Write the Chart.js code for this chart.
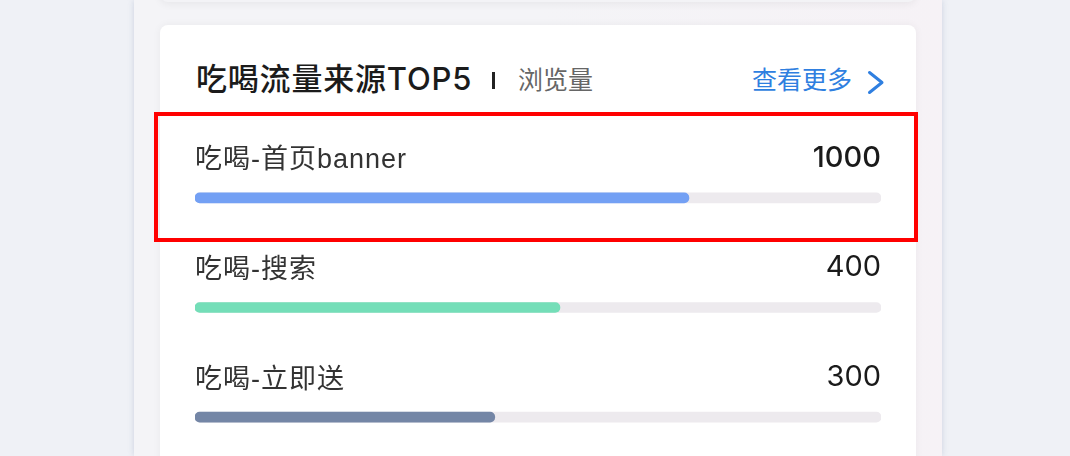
<!DOCTYPE html>
<html>
<head>
<meta charset="utf-8">
<script src="https://cdn.jsdelivr.net/npm/chart.js@4"></script>
<style>
  html, body { margin:0; padding:0; }
  body { width:1070px; height:456px; overflow:hidden; position:relative; background:#eff1f6;
         font-family:"Liberation Sans","Noto Sans CJK SC",sans-serif; }
  .panel { position:absolute; left:134px; top:0; width:808px; height:456px;
           background:linear-gradient(90deg,#f4f4f7 0%,#f4f4f7 50%,#f6f2f6 100%);
           box-shadow:0 0 6px rgba(190,196,215,0.7); }
  .topcard { position:absolute; left:160px; top:-40px; width:756px; height:42px; background:#f3f3f6;
             border-radius:8px; box-shadow:0 2px 8px rgba(0,0,0,0.06); }
  .card { position:absolute; left:160px; top:25px; width:756px; height:470px; background:#fff;
          border-radius:8px; box-shadow:0 0 8px rgba(0,0,0,0.05); }
  .title { position:absolute; left:196px; top:62px; font-family:"Inter","Noto Sans CJK SC",sans-serif;
           font-size:31px; line-height:34px; letter-spacing:0.8px; color:#1b1b1b;
           font-weight:500; white-space:nowrap; }
  .sep { position:absolute; left:492px; top:72px; width:3px; height:17px; background:#222; }
  .sub { position:absolute; left:518px; top:64px; font-size:25px; line-height:32px; color:#666; white-space:nowrap; }
  .more { position:absolute; left:752px; top:64px; font-size:25px; line-height:32px; color:#2f7fe0; white-space:nowrap; }
  .chev { position:absolute; left:866px; top:70px; }
  .hl { position:absolute; left:154px; top:112px; width:764px; height:130px; box-sizing:border-box;
        border:4px solid #ff0000; z-index:3; }
  canvas { position:absolute; left:0; top:0; z-index:2; }
</style>
</head>
<body>
<div class="panel"></div>
<div class="topcard"></div>
<div class="card"></div>
<div class="title">吃喝流量来源TOP5</div>
<div class="sep"></div>
<div class="sub">浏览量</div>
<div class="more">查看更多</div>
<svg class="chev" width="20" height="26" viewBox="0 0 20 26"><polyline points="3.5,2.5 16,12.5 3.5,22.5" fill="none" stroke="#2f7fe0" stroke-width="3" stroke-linecap="round" stroke-linejoin="round"/></svg>
<div class="hl"></div>
<canvas id="c" width="1070" height="472"></canvas>
<script>
const categories = ['吃喝-首页banner', '吃喝-搜索', '吃喝-立即送'];
const views = [1000, 400, 300];
const barPercent = [72.0, 53.2, 43.7];
const trackFull = [100, 100, 100];
const barColors = ['#73a0f4', '#74deb8', '#7486a6'];
const trackColor = '#edeaee';

const rowText = {
  id: 'rowText',
  afterDatasetsDraw(chart) {
    const ctx = chart.ctx;
    const y = chart.scales.y;
    const area = chart.chartArea;
    ctx.save();
    ctx.textBaseline = 'middle';
    categories.forEach((lab, i) => {
      const py = y.getPixelForValue(i);
      ctx.fillStyle = '#333333';
      ctx.textAlign = 'left';
      ctx.font = '27px "Liberation Sans","Noto Sans CJK SC"';
      if ('letterSpacing' in ctx) ctx.letterSpacing = '1px';
      ctx.fillText(lab, area.left, py - 37);
      if ('letterSpacing' in ctx) ctx.letterSpacing = '0px';
      ctx.textAlign = 'right';
      ctx.fillStyle = '#1a1a1a';
      ctx.font = (i === 0 ? '500 ' : '400 ') + '29px "Inter","Liberation Sans"';
      ctx.fillText(String(views[i]), area.right, py - 40);
    });
    ctx.restore();
  }
};

new Chart(document.getElementById('c'), {
  type: 'bar',
  data: {
    labels: categories,
    datasets: [
      { data: barPercent, backgroundColor: barColors, grouped: false, order: 0,
        barThickness: 10, borderRadius: 5, borderSkipped: false },
      { data: trackFull, backgroundColor: trackColor, grouped: false, order: 1,
        barThickness: 10, borderRadius: 5, borderSkipped: false }
    ]
  },
  options: {
    indexAxis: 'y',
    responsive: false,
    animation: false,
    devicePixelRatio: 1,
    layout: { padding: { left: 195, right: 189, top: 143, bottom: 0 } },
    scales: {
      x: { display: false, min: 0, max: 100 },
      y: { display: false }
    },
    plugins: { legend: { display: false }, tooltip: { enabled: false } }
  },
  plugins: [rowText]
});
</script>
</body>
</html>
